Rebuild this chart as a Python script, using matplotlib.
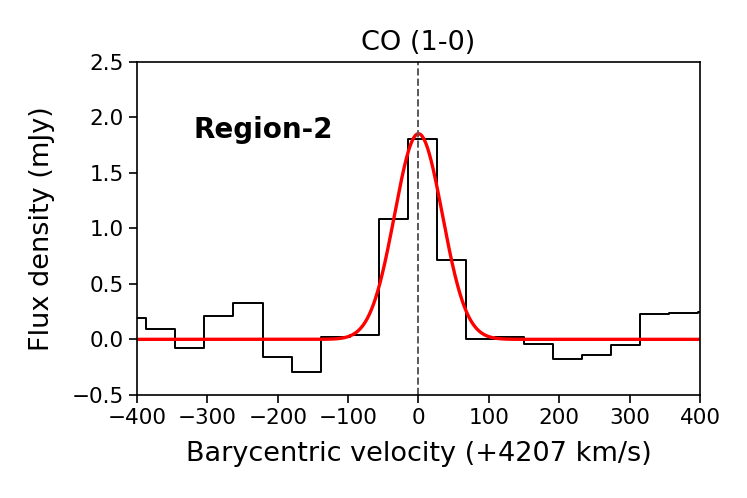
import numpy as np
import matplotlib
matplotlib.use("Agg")
import matplotlib.pyplot as plt

# channel centres (km/s, relative to +4207 km/s) and flux density (mJy)
velocity = [-407.5, -366.2, -324.9, -283.6, -242.3, -201.0, -159.7, -118.4,
            -77.1, -35.8, 5.5, 46.8, 88.1, 129.4, 170.7, 212.0, 253.3,
            294.6, 335.9, 377.2, 418.5]
flux = [0.19, 0.09, -0.08, 0.21, 0.33, -0.16, -0.29, 0.02,
        0.04, 1.085, 1.80, 0.71, 0.00, 0.025, -0.04, -0.18, -0.14,
        -0.05, 0.23, 0.24, 0.25]

# gaussian fit parameters
fit_amp = 1.85
fit_mu = 0.0
fit_sigma = 34.0

xticks = [-400, -300, -200, -100, 0, 100, 200, 300, 400]
yticks = [-0.5, 0.0, 0.5, 1.0, 1.5, 2.0, 2.5]

fig = plt.figure(figsize=(7.47, 4.98), dpi=100)
ax = fig.add_axes([0.1834, 0.207, 0.7536, 0.6695])

ax.plot(velocity, flux, drawstyle="steps-mid", color="k", lw=1.4)
vgrid = np.linspace(-400, 400, 801)
model = fit_amp * np.exp(-(vgrid - fit_mu) ** 2 / (2 * fit_sigma ** 2))
ax.plot(vgrid, model, color="red", lw=2.4)
ax.axvline(0, color="0.35", ls="--", lw=1.4)

ax.text(-320, 1.88, "Region-2", fontsize=20, fontweight="bold",
        ha="left", va="center")

ax.set_xlim(-400, 400)
ax.set_ylim(-0.5, 2.5)
ax.set_xticks(xticks)
ax.set_yticks(yticks)
ax.tick_params(labelsize=15.5, width=1.2, length=6)
for s in ax.spines.values():
    s.set_linewidth(1.2)

ax.set_xlabel("Barycentric velocity (+4207 km/s)", fontsize=19.5, labelpad=9)
ax.set_ylabel("Flux density (mJy)", fontsize=19.5, labelpad=12)
ax.set_title("CO (1-0)", fontsize=19.5, pad=8)

fig.savefig("out.png", dpi=100)
